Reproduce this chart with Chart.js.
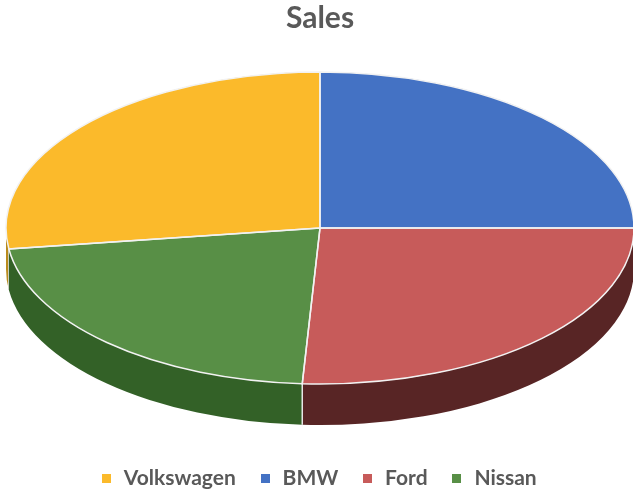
<!DOCTYPE html>
<html>
    <head>
        <meta charset="UTF-8" />
        <title>Sales</title>
        <script src="https://cdn.jsdelivr.net/npm/chart.js@4"></script>
        <style>
            html, body { margin: 0; padding: 0; background: #fff; }
            #wrap { width: 633px; height: 491px; }
        </style>
    </head>
    <body>
        <div id="wrap"><canvas id="pie" width="633" height="491"></canvas></div>
        <script>
            var categories = ["Volkswagen", "BMW", "Ford", "Nissan"];
            var sales = [27.15, 25, 25.9, 21.95];
            var colors = ["#FBBA2B", "#4472C4", "#C75B5A", "#588F46"];
            var wallColors = ["#B98B1C", "#2E4F8C", "#582525", "#336127"];

            var squash = 156 / 314; // ellipse height / width
            var depth = 41;

            function marker(color) {
                var c = document.createElement("canvas");
                c.width = 9;
                c.height = 9;
                var g = c.getContext("2d");
                g.fillStyle = color;
                g.fillRect(0, 0, 9, 9);
                return c;
            }
            var markers = colors.map(marker);

            var tilted = {
                id: "tilted",
                // the pie sits at a fixed place, title and legend do not push it
                afterLayout: function (chart) {
                    var a = chart.chartArea;
                    a.left = 6; a.right = 634; a.top = 72; a.bottom = 384;
                    a.width = 628; a.height = 312;
                    chart.legend.top += 8;
                    chart.legend.bottom += 8;
                    chart.legend.left -= 2;
                    chart.legend.right -= 2;
                },
                beforeDatasetsDraw: function (chart) {
                    var ctx = chart.ctx;
                    var arcs = chart.getDatasetMeta(0).data;
                    ctx.save();
                    arcs.forEach(function (arc, i) {
                        // only the front half of the rim can be seen
                        var pieces = [[arc.startAngle, arc.endAngle], [arc.startAngle + 2 * Math.PI, arc.endAngle + 2 * Math.PI]];
                        pieces.forEach(function (p) {
                            var from = Math.max(p[0], 0);
                            var to = Math.min(p[1], Math.PI);
                            if (to <= from) return;
                            var rx = arc.outerRadius, ry = rx * squash;
                            ctx.beginPath();
                            ctx.ellipse(arc.x, arc.y, rx, ry, 0, from, to);
                            ctx.ellipse(arc.x, arc.y + depth, rx, ry, 0, to, from, true);
                            ctx.closePath();
                            ctx.fillStyle = wallColors[i];
                            ctx.fill();
                            if (p[0] > 0 && p[0] < Math.PI) {
                                var sx = arc.x + rx * Math.cos(p[0]);
                                var sy = arc.y + ry * Math.sin(p[0]);
                                ctx.beginPath();
                                ctx.moveTo(sx, sy);
                                ctx.lineTo(sx, sy + depth);
                                ctx.strokeStyle = "#E6E6E6";
                                ctx.lineWidth = 1.5;
                                ctx.stroke();
                            }
                        });
                    });
                    ctx.restore();
                    var m = arcs[0];
                    ctx.save();
                    ctx.translate(m.x, m.y);
                    ctx.scale(1, squash);
                    ctx.translate(-m.x, -m.y);
                },
                afterDatasetsDraw: function (chart) {
                    var ctx = chart.ctx;
                    ctx.restore();
                    // white outlines, drawn unscaled to keep an even width
                    ctx.save();
                    ctx.strokeStyle = "#F2F2F2";
                    ctx.lineWidth = 1.5;
                    chart.getDatasetMeta(0).data.forEach(function (arc) {
                        var rx = arc.outerRadius, ry = rx * squash;
                        ctx.beginPath();
                        ctx.moveTo(arc.x, arc.y);
                        ctx.ellipse(arc.x, arc.y, rx, ry, 0, arc.startAngle, arc.endAngle);
                        ctx.closePath();
                        ctx.stroke();
                    });
                    ctx.restore();
                }
            };

            new Chart(document.getElementById("pie").getContext("2d"), {
                type: "pie",
                plugins: [tilted],
                data: {
                    labels: categories,
                    datasets: [{
                        data: sales,
                        backgroundColor: colors,
                        borderWidth: 0
                    }]
                },
                options: {
                    responsive: false,
                    animation: false,
                    rotation: -97.74,
                    radius: 314,
                    layout: { padding: { left: 7 } },
                    plugins: {
                        tooltip: { enabled: false },
                        title: {
                            display: true,
                            text: "Sales",
                            color: "#595959",
                            font: { family: "Lato", size: 30, weight: "bold" },
                            padding: { top: 0, bottom: 0 }
                        },
                        legend: {
                            position: "bottom",
                            labels: {
                                color: "#595959",
                                font: { family: "Lato", size: 21, weight: "bold" },
                                usePointStyle: true,
                                pointStyleWidth: 14,
                                boxWidth: 14,
                                boxHeight: 9,
                                padding: 22.3,
                                generateLabels: function (chart) {
                                    var items = Chart.overrides.pie.plugins.legend.labels.generateLabels(chart);
                                    items.forEach(function (item, i) { item.pointStyle = markers[i]; });
                                    return items;
                                }
                            }
                        }
                    }
                }
            });
        </script>
    </body>
</html>
